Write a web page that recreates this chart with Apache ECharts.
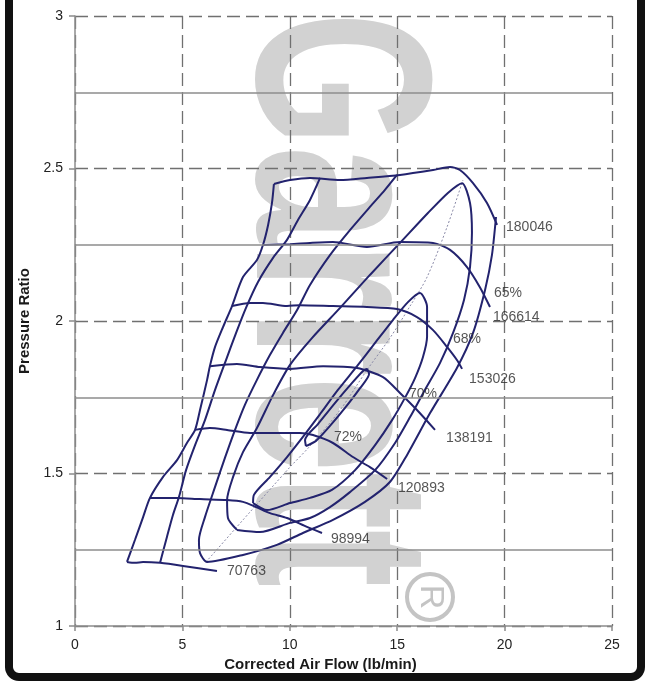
<!DOCTYPE html>
<html>
<head>
<meta charset="utf-8">
<title>Compressor Map</title>
<script src="https://cdn.jsdelivr.net/npm/echarts/dist/echarts.min.js"></script>
<style>
  html, body { margin: 0; padding: 0; background: #fff; }
  #chart { width: 649px; height: 681px; }
</style>
</head>
<body>
<div id="chart"></div>
<script>
// axis ranges / ticks
var xRange = [0, 25, 5];
var yRange = [1, 3, 0.5];
var yMinor = [1.25, 1.75, 2.25, 2.75];

// speed lines (corrected flow lb/min, pressure ratio)
var speed70763 = [[2.42,1.210],[2.79,1.207],[3.17,1.210],[3.96,1.207],[5.03,1.197],[6.61,1.180]];
var speed98994 = [[3.49,1.420],[4.75,1.420],[5.82,1.416],[7.08,1.413],[7.82,1.407],[8.43,1.390],[9.08,1.370],[9.87,1.354],[10.80,1.325],[11.50,1.305]];
var speed120893 = [[5.59,1.643],[6.28,1.649],[7.08,1.643],[8.15,1.633],[9.40,1.633],[10.47,1.633],[11.08,1.626],[12.01,1.600],[12.94,1.554],[13.73,1.521],[14.53,1.482]];
var speed138191 = [[6.28,1.852],[7.54,1.859],[8.61,1.849],[10.01,1.843],[11.55,1.852],[13.13,1.846],[14.34,1.816],[15.13,1.764],[15.92,1.708],[16.76,1.643]];
var speed153026 = [[7.31,2.049],[8.15,2.059],[8.75,2.059],[9.87,2.049],[10.47,2.052],[12.01,2.049],[13.59,2.046],[14.99,2.039],[15.92,2.013],[16.67,1.970],[17.32,1.915],[17.78,1.872],[18.02,1.843]];
var speed166614 = [[8.75,2.249],[10.01,2.252],[10.94,2.256],[12.01,2.259],[13.59,2.243],[15.13,2.259],[16.67,2.256],[17.46,2.233],[18.25,2.177],[18.85,2.111],[19.32,2.046]];
var speed180046 = [[9.26,2.449],[10.01,2.462],[10.94,2.469],[12.34,2.462],[13.59,2.469],[15.13,2.479],[16.67,2.495],[17.46,2.505],[17.92,2.495],[18.53,2.452],[19.18,2.387],[19.65,2.315]];

// surge line
var surge = [[2.42,1.210],[2.79,1.282],[3.17,1.357],[3.49,1.420],[4.10,1.489],[4.75,1.544],[5.21,1.600],[5.59,1.643],[5.82,1.708],[6.15,1.807],[6.28,1.852],[6.52,1.915],[6.89,1.980],[7.31,2.049],[7.82,2.144],[8.47,2.200],[8.75,2.249],[8.99,2.315],[9.17,2.387],[9.26,2.449]];

// efficiency islands
var eff72 = [[10.75,1.590],[10.71,1.610],[11.31,1.662],[12.10,1.731],[12.90,1.797],[13.41,1.836],[13.59,1.843],[13.69,1.826],[13.27,1.780],[12.57,1.715],[11.87,1.656],[11.22,1.607],[10.75,1.590]];
var eff70 = [[8.29,1.403],[8.33,1.430],[9.08,1.489],[9.87,1.554],[10.61,1.620],[11.41,1.695],[12.24,1.774],[13.13,1.852],[13.97,1.928],[14.80,2.003],[15.50,2.062],[16.06,2.092],[16.39,2.046],[16.39,1.948],[16.20,1.882],[15.83,1.813],[15.36,1.748],[14.76,1.675],[13.97,1.593],[13.04,1.511],[11.96,1.446],[10.94,1.420],[10.01,1.403],[8.94,1.380],[8.29,1.403]];
var eff68 = [[7.54,1.315],[7.12,1.354],[7.08,1.413],[7.36,1.489],[7.82,1.570],[8.47,1.649],[9.22,1.757],[10.01,1.856],[11.03,1.944],[12.34,2.043],[13.73,2.151],[15.13,2.256],[16.43,2.354],[17.36,2.420],[18.02,2.452],[18.39,2.387],[18.48,2.289],[18.39,2.177],[18.11,2.069],[17.60,1.961],[16.99,1.862],[16.29,1.774],[15.60,1.685],[14.90,1.600],[13.97,1.511],[12.80,1.439],[11.87,1.390],[10.94,1.354],[10.01,1.338],[8.61,1.308],[7.54,1.315]];
var eff65 = [[14.99,2.479],[14.43,2.430],[13.73,2.374],[12.80,2.298],[11.87,2.216],[10.94,2.118],[10.34,2.036],[9.68,1.961],[9.08,1.889],[8.47,1.807],[7.91,1.725],[7.45,1.643],[6.98,1.551],[6.52,1.456],[6.05,1.357],[5.77,1.282],[5.82,1.239],[6.15,1.210],[7.82,1.233],[9.40,1.266],[10.61,1.305],[12.01,1.348],[13.50,1.407],[14.66,1.472],[15.46,1.561],[16.53,1.698],[17.78,1.846],[18.53,1.961],[19.09,2.102],[19.41,2.216],[19.60,2.341]];
var effOuter = [[11.41,2.469],[10.94,2.397],[10.38,2.331],[9.87,2.266],[9.22,2.207],[8.52,2.128],[7.96,2.043],[7.50,1.961],[7.03,1.872],[6.52,1.774],[6.05,1.675],[5.59,1.593],[5.17,1.511],[4.84,1.423],[4.56,1.364],[4.28,1.292],[3.96,1.207]];

// max efficiency (dotted)
var peakLine = [[6.10,1.210],[8.15,1.374],[10.01,1.521],[10.94,1.590],[12.34,1.708],[13.59,1.839],[14.66,1.944],[15.60,2.049],[16.39,2.144],[17.32,2.308],[18.06,2.462]];

// labels
var speedLabels = [[20.02,2.308,'180046'],[19.41,2.013,'166614'],[18.30,1.810,'153026'],[17.23,1.616,'138191'],[14.99,1.452,'120893'],[11.87,1.285,'98994'],[7.03,1.180,'70763']];
var effLabels = [[19.46,2.092,'65%'],[17.55,1.941,'68%'],[15.50,1.761,'70%'],[12.01,1.620,'72%']];

var navy = '#23236e';
var font = '"Liberation Sans", Arial, sans-serif';

function curve(data) {
  return {
    type: 'line',
    data: data,
    smooth: 0.25,
    showSymbol: false,
    z: 3,
    lineStyle: { color: navy, width: 2 }
  };
}

var myChart = echarts.init(document.getElementById('chart'));

var labelData = speedLabels.concat(effLabels).map(function (r) {
  return { value: [r[0], r[1]], name: r[2] };
});

var option = {
  backgroundColor: '#ffffff',
  animation: false,
  grid: { left: 75, right: 37, top: 16, bottom: 55 },
  xAxis: {
    type: 'value',
    min: xRange[0],
    max: xRange[1],
    interval: xRange[2],
    name: 'Corrected Air Flow (lb/min)',
    nameLocation: 'middle',
    nameGap: 26,
    nameTextStyle: { fontFamily: font, fontSize: 15, fontWeight: 'bold', color: '#1a1a1a', padding: [0, 46, 0, 0] },
    axisLine: { lineStyle: { color: '#8c8c8c', width: 1.5 } },
    axisTick: { length: 5, lineStyle: { color: '#8c8c8c', width: 1.5 } },
    axisLabel: { fontFamily: font, fontSize: 14, color: '#222', margin: 12 },
    splitLine: { lineStyle: { color: '#707070', width: 1.3, type: [13, 6] } }
  },
  yAxis: {
    type: 'value',
    min: yRange[0],
    max: yRange[1],
    interval: yRange[2],
    name: 'Pressure Ratio',
    nameLocation: 'middle',
    nameGap: 37,
    nameTextStyle: { fontFamily: font, fontSize: 15, fontWeight: 'bold', color: '#1a1a1a' },
    axisLine: { show: true, lineStyle: { color: '#8c8c8c', width: 1.5 } },
    axisTick: { show: true, length: 6, lineStyle: { color: '#8c8c8c', width: 1.5 } },
    axisLabel: { fontFamily: font, fontSize: 14, color: '#222', margin: 12 },
    splitLine: { lineStyle: { color: '#707070', width: 1.3, type: [13, 6] } }
  },
  graphic: [
    // watermark
    {
      type: 'text', z: -10, x: 326, y: 12, rotation: -Math.PI / 2, scaleX: 0.69,
      style: { text: 'Garrett', font: 'bold 250px "Liberation Sans"', fill: '#d2d2d2', align: 'left', verticalAlign: 'middle' }
    },
    {
      type: 'circle', z: -10, shape: { cx: 430, cy: 597, r: 23 },
      style: { fill: 'none', stroke: '#c4c4c4', lineWidth: 4 }
    },
    {
      type: 'text', z: -10, x: 430, y: 597, rotation: -Math.PI / 2,
      style: { text: 'R', font: '34px "Liberation Sans"', fill: '#c4c4c4', align: 'center', verticalAlign: 'middle' }
    },
    // frame
    {
      type: 'rect', z: 100, shape: { x: 9, y: -30, width: 632, height: 707, r: 10 },
      style: { fill: 'none', stroke: '#111', lineWidth: 8 }
    }
  ],
  series: [
    {
      type: 'line',
      data: [],
      z: 1,
      markLine: {
        silent: true,
        symbol: 'none',
        label: { show: false },
        lineStyle: { color: '#8c8c8c', width: 1.5, type: 'solid' },
        data: yMinor.map(function (v) { return { yAxis: v }; })
      }
    },
    {
      type: 'line',
      data: peakLine,
      smooth: 0.3,
      showSymbol: false,
      z: 2,
      lineStyle: { color: '#8a8aa8', width: 1, type: [2, 2] }
    },
    curve(surge),
    curve(speed70763),
    curve(speed98994),
    curve(speed120893),
    curve(speed138191),
    curve(speed153026),
    curve(speed166614),
    curve(speed180046),
    curve(eff72),
    curve(eff70),
    curve(eff68),
    curve(eff65),
    curve(effOuter),
    {
      type: 'scatter',
      data: labelData,
      symbolSize: 2,
      itemStyle: { color: 'rgba(0,0,0,0)' },
      z: 4,
      label: {
        show: true,
        position: 'right',
        distance: 0,
        formatter: '{b}',
        fontFamily: font,
        fontSize: 14,
        color: '#2a2a2a'
      }
    }
  ]
};

myChart.setOption(option);

window.addEventListener('resize', function () {
  myChart.resize();
});
</script>
</body>
</html>
